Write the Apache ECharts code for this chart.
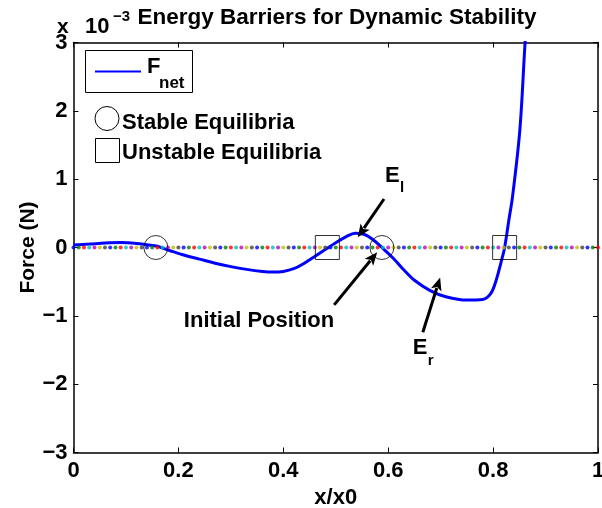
<!DOCTYPE html>
<html>
<head>
<meta charset="utf-8">
<script src="https://cdn.jsdelivr.net/npm/echarts@6/dist/echarts.min.js"></script>
<style>
html,body{margin:0;padding:0;background:#fff;}
#chart{width:602px;height:508px;}
</style>
</head>
<body>
<div id="chart"></div>
<script>
// Net force curve (values in units of 1e-3 N)
const curveX = [0.00, 0.03, 0.06, 0.09, 0.12, 0.14, 0.16, 0.17, 0.19, 0.21, 0.24, 0.27, 0.30, 0.33, 0.36, 0.38, 0.40, 0.42, 0.44, 0.46, 0.48, 0.50, 0.52, 0.537, 0.555, 0.57, 0.588, 0.61, 0.63, 0.65, 0.68, 0.71, 0.75, 0.78, 0.795, 0.805, 0.815, 0.822, 0.83, 0.837, 0.851, 0.861, 0.866];
const curveY = [0.037, 0.05, 0.065, 0.072, 0.06, 0.04, 0.02, -0.01, -0.06, -0.11, -0.17, -0.23, -0.28, -0.32, -0.35, -0.36, -0.35, -0.31, -0.23, -0.13, -0.03, 0.07, 0.16, 0.21, 0.19, 0.12, 0.0, -0.16, -0.33, -0.48, -0.63, -0.72, -0.77, -0.76, -0.68, -0.50, -0.22, 0.0, 0.40, 0.74, 1.72, 3.0, 3.5];
// Equilibria
const stableX = [0.157, 0.588];
const unstableX = [0.484, 0.822];
// Zero reference line sample positions
const zeroLineX = [0.00,0.01,0.02,0.03,0.04,0.05,0.06,0.07,0.08,0.09,0.10,0.11,0.12,0.13,0.14,0.15,0.16,0.17,0.18,0.19,0.20,0.21,0.22,0.23,0.24,0.25,0.26,0.27,0.28,0.29,0.30,0.31,0.32,0.33,0.34,0.35,0.36,0.37,0.38,0.39,0.40,0.41,0.42,0.43,0.44,0.45,0.46,0.47,0.48,0.49,0.50,0.51,0.52,0.53,0.54,0.55,0.56,0.57,0.58,0.59,0.60,0.61,0.62,0.63,0.64,0.65,0.66,0.67,0.68,0.69,0.70,0.71,0.72,0.73,0.74,0.75,0.76,0.77,0.78,0.79,0.80,0.81,0.82,0.83,0.84,0.85,0.86,0.87,0.88,0.89,0.90,0.91,0.92,0.93,0.94,0.95,0.96,0.97,0.98,0.99,1.00];
const dotColors = ['#0000ff', '#008000', '#ff0000', '#00bfbf', '#bf00bf', '#bfbf00', '#404040'];
// Axis ticks
const xTicks = [0, 0.2, 0.4, 0.6, 0.8, 1];
const yTicks = [-3, -2, -1, 0, 1, 2, 3];
// Annotations: [tailX, tailY, headX, headY]
const arrowEl = [0.592, 0.71, 0.542, 0.15];
const arrowInit = [0.497, -0.84, 0.579, -0.07];
const arrowEr = [0.666, -1.24, 0.699, -0.44];

const FONT = '"Liberation Sans", Arial, sans-serif';
const chart = echarts.init(document.getElementById('chart'), null, {renderer: 'canvas'});

function fmtY(v) { return v < 0 ? '\u2212' + Math.abs(v) : String(v); }
function fmtX(v) { return String(v); }

const grid = {left: 73.5, right: 4, top: 42.5, bottom: 55.5, containLabel: false, outerBoundsMode: 'none'};

const option = {
  animation: false,
  backgroundColor: '#fff',
  grid: grid,
  xAxis: [{
    type: 'value', min: xTicks[0], max: xTicks[xTicks.length - 1], interval: 0.2,
    position: 'bottom',
    name: 'x/x0', nameLocation: 'middle', nameGap: 34, nameMoveOverlap: false,
    nameTextStyle: {fontFamily: FONT, fontWeight: 'bold', fontSize: 22, color: '#000'},
    axisLine: {show: true, onZero: false, lineStyle: {color: '#000', width: 1.5}},
    axisTick: {show: true, inside: true, length: 5, lineStyle: {color: '#000', width: 1}},
    axisLabel: {fontFamily: FONT, fontWeight: 'bold', fontSize: 22, color: '#000', margin: 7, formatter: fmtX, hideOverlap: false},
    splitLine: {show: false}
  }, {
    type: 'value', min: xTicks[0], max: xTicks[xTicks.length - 1], interval: 0.2,
    position: 'top',
    axisLine: {show: true, onZero: false, lineStyle: {color: '#000', width: 1.5}},
    axisTick: {show: true, inside: true, length: 5, lineStyle: {color: '#000', width: 1}},
    axisLabel: {show: false},
    splitLine: {show: false}
  }],
  yAxis: [{
    type: 'value', min: yTicks[0], max: yTicks[yTicks.length - 1], interval: 1,
    position: 'left',
    name: 'Force (N)', nameLocation: 'middle', nameGap: 35, nameRotate: 90, nameMoveOverlap: false,
    nameTextStyle: {fontFamily: FONT, fontWeight: 'bold', fontSize: 21, color: '#000'},
    axisLine: {show: true, onZero: false, lineStyle: {color: '#000', width: 1.5}},
    axisTick: {show: true, inside: true, length: 5, lineStyle: {color: '#000', width: 1}},
    axisLabel: {fontFamily: FONT, fontWeight: 'bold', fontSize: 22, color: '#000', margin: 6, formatter: fmtY, hideOverlap: false},
    splitLine: {show: false}
  }, {
    type: 'value', min: yTicks[0], max: yTicks[yTicks.length - 1], interval: 1,
    position: 'right',
    axisLine: {show: true, onZero: false, lineStyle: {color: '#000', width: 1.5}},
    axisTick: {show: true, inside: true, length: 5, lineStyle: {color: '#000', width: 1}},
    axisLabel: {show: false},
    splitLine: {show: false}
  }],
  series: [{
    name: 'F_net', type: 'line', xAxisIndex: 0, yAxisIndex: 0,
    data: curveX.map((x, i) => [x, curveY[i]]),
    smooth: 0.35, showSymbol: false, clip: true, z: 3,
    lineStyle: {color: '#0000ff', width: 3}
  }, {
    name: 'zero', type: 'scatter', xAxisIndex: 0, yAxisIndex: 0,
    data: zeroLineX.map(x => [x, 0]),
    symbol: 'circle', symbolSize: 4, z: 4, silent: true,
    itemStyle: {color: (p) => dotColors[p.dataIndex % dotColors.length]}
  }, {
    name: 'Stable Equilibria', type: 'scatter', xAxisIndex: 0, yAxisIndex: 0,
    data: stableX.map(x => [x, 0]),
    symbol: 'circle', symbolSize: 24, z: 5, silent: true,
    itemStyle: {color: 'rgba(0,0,0,0)', borderColor: '#000', borderWidth: 1}
  }, {
    name: 'Unstable Equilibria', type: 'scatter', xAxisIndex: 0, yAxisIndex: 0,
    data: unstableX.map(x => [x, 0]),
    symbol: 'rect', symbolSize: 24, z: 5, silent: true,
    itemStyle: {color: 'rgba(0,0,0,0)', borderColor: '#000', borderWidth: 1}
  }]
};
chart.setOption(option);

function arrow(spec) {
  const t = chart.convertToPixel({gridIndex: 0}, [spec[0], spec[1]]);
  const h = chart.convertToPixel({gridIndex: 0}, [spec[2], spec[3]]);
  const dx = h[0] - t[0], dy = h[1] - t[1];
  const len = Math.sqrt(dx * dx + dy * dy);
  const ux = dx / len, uy = dy / len;
  const hl = 13, hw = 5.5;
  const bx = h[0] - ux * hl, by = h[1] - uy * hl;
  return [{
    type: 'line', z: 20,
    shape: {x1: t[0], y1: t[1], x2: bx + ux * 2, y2: by + uy * 2},
    style: {stroke: '#000', lineWidth: 3}
  }, {
    type: 'polygon', z: 20,
    shape: {points: [[h[0], h[1]], [bx - uy * hw, by + ux * hw], [bx + ux * 3, by + uy * 3], [bx + uy * hw, by - ux * hw]]},
    style: {fill: '#000'}
  }];
}

function txt(x, y, text, size, align, extra) {
  return Object.assign({
    type: 'text', x: x, y: y, z: 30,
    style: {text: text, fontFamily: FONT, fontWeight: 'bold', fontSize: size, fill: '#000',
            align: align || 'left', verticalAlign: 'middle'}
  }, extra || {});
}

const elTail = chart.convertToPixel({gridIndex: 0}, [arrowEl[0], arrowEl[1]]);
const initTail = chart.convertToPixel({gridIndex: 0}, [arrowInit[0], arrowInit[1]]);
const erTail = chart.convertToPixel({gridIndex: 0}, [arrowEr[0], arrowEr[1]]);

const graphic = [].concat(
  arrow(arrowEl), arrow(arrowInit), arrow(arrowEr),
  [
    // title and exponent
    txt(337, 18, 'Energy Barriers for Dynamic Stability', 22.5, 'center'),
    txt(57, 27, 'x', 21, 'left'),
    txt(85, 27, '10', 22, 'left'),
    txt(113, 17, '\u22123', 15, 'left'),
    // annotation labels
    txt(elTail[0] + 1, elTail[1] - 23, 'E', 22, 'left'),
    txt(elTail[0] + 16, elTail[1] - 11, 'l', 15, 'left'),
    txt(initTail[0], initTail[1] + 16, 'Initial Position', 22, 'right'),
    txt(erTail[0] - 10, erTail[1] + 16, 'E', 22, 'left'),
    txt(erTail[0] + 5, erTail[1] + 29, 'r', 15, 'left'),
    // legend box
    {type: 'rect', z: 25, shape: {x: 85.5, y: 50.5, width: 107, height: 42},
     style: {fill: '#fff', stroke: '#000', lineWidth: 1}},
    {type: 'line', z: 26, shape: {x1: 95, y1: 71.5, x2: 141, y2: 71.5},
     style: {stroke: '#0000ff', lineWidth: 2}},
    txt(147, 67, 'F', 22, 'left'),
    txt(159, 83, 'net', 17, 'left'),
    // stable / unstable legend entries
    {type: 'circle', z: 26, shape: {cx: 107, cy: 118.5, r: 12},
     style: {fill: 'none', stroke: '#000', lineWidth: 1}},
    txt(122, 122.5, 'Stable Equilibria', 22, 'left'),
    {type: 'rect', z: 26, shape: {x: 95.5, y: 138.5, width: 24, height: 24},
     style: {fill: 'none', stroke: '#000', lineWidth: 1}},
    txt(122, 152.5, 'Unstable Equilibria', 22, 'left')
  ]
);
chart.setOption({graphic: graphic});
</script>
</body>
</html>
